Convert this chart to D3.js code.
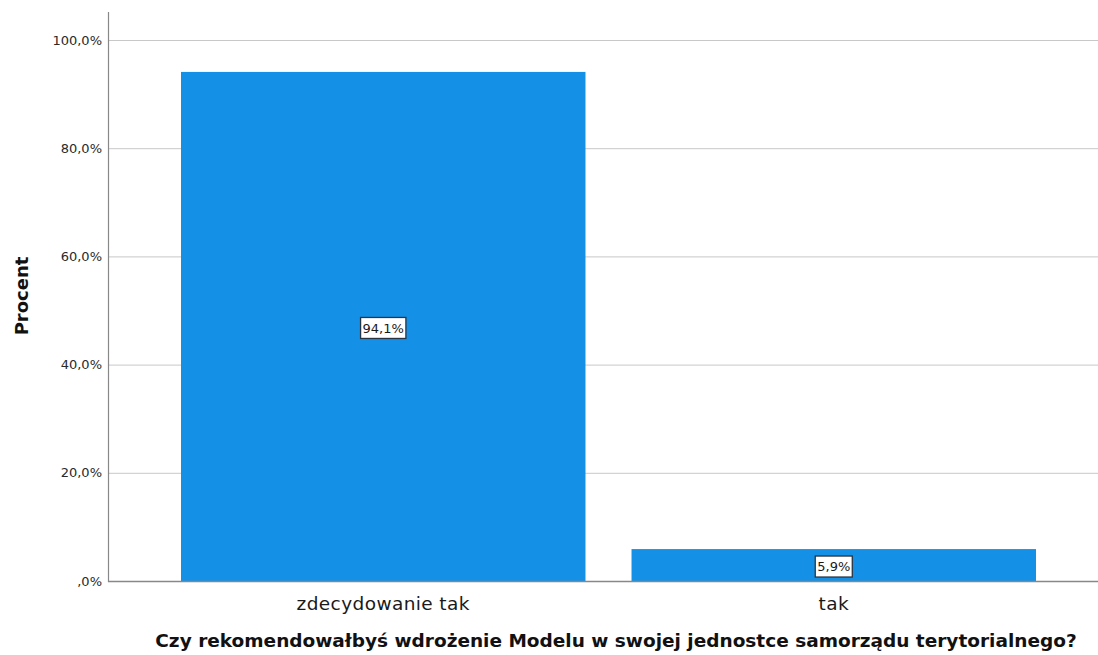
<!DOCTYPE html>
<html><head><meta charset="utf-8">
<script src="https://cdn.jsdelivr.net/npm/d3@7"></script>
<style>body{margin:0;background:#fff;}svg{display:block;}</style>
</head><body>
<script>
const categories = ["zdecydowanie tak", "tak"];
const values = [94.1, 5.9];
const valueLabels = ["94,1%", "5,9%"];
const yTicks = [0, 20, 40, 60, 80, 100];
const yTickLabels = [",0%", "20,0%", "40,0%", "60,0%", "80,0%", "100,0%"];
const xTitle = "Czy rekomendowałbyś wdrożenie Modelu w swojej jednostce samorządu terytorialnego?";
const yTitle = "Procent";

const W = 1098, H = 655;
const mLeft = 108, mRight = 1098, mTop = 12, mBottom = 581;
const svg = d3.select("body").append("svg").attr("width", W).attr("height", H);

const y = d3.scaleLinear().domain([0, 100]).range([581, 40]);
const x = d3.scaleBand().domain(categories).range([181, 1036]).paddingInner(46/450).paddingOuter(0);

// gridlines
svg.append("g").selectAll("line").data(yTicks.filter(d => d > 0)).join("line")
  .attr("x1", mLeft).attr("x2", mRight)
  .attr("y1", d => y(d) + 0.5).attr("y2", d => y(d) + 0.5)
  .attr("stroke", "#c8c8c8").attr("stroke-width", 1);

// bars
svg.append("g").selectAll("rect").data(values).join("rect")
  .attr("x", (d, i) => x(categories[i]))
  .attr("width", x.bandwidth())
  .attr("y", d => y(d))
  .attr("height", d => y(0) - y(d))
  .attr("fill", "#1490e6");

// axes lines
svg.append("line").attr("x1", mLeft + 0.5).attr("x2", mLeft + 0.5).attr("y1", mTop).attr("y2", mBottom + 1)
  .attr("stroke", "#888").attr("stroke-width", 1.2);
svg.append("line").attr("x1", mLeft).attr("x2", mRight).attr("y1", mBottom + 0.5).attr("y2", mBottom + 0.5)
  .attr("stroke", "#888").attr("stroke-width", 1.5);

// y tick labels
svg.append("g").selectAll("text").data(yTicks).join("text")
  .attr("x", 102).attr("y", d => y(d))
  .attr("dy", "0.35em").attr("text-anchor", "end")
  .attr("font-family", "DejaVu Sans, sans-serif").attr("font-size", 13)
  .attr("fill", "#2a2a2a").text((d, i) => yTickLabels[i]);

// x tick labels
svg.append("g").selectAll("text").data(categories).join("text")
  .attr("x", d => x(d) + x.bandwidth() / 2).attr("y", 610)
  .attr("text-anchor", "middle")
  .attr("font-family", "DejaVu Sans, sans-serif").attr("font-size", 18.5)
  .attr("letter-spacing", "0.4px")
  .attr("fill", "#1a1a1a").text(d => d);

// value labels
const lg = svg.append("g").selectAll("g").data(values).join("g")
  .attr("transform", (d, i) => `translate(${x(categories[i]) + x.bandwidth() / 2},${(y(d) + y(0)) / 2 + 1.5})`);
lg.append("text").attr("text-anchor", "middle").attr("dy", "0.35em")
  .attr("font-family", "DejaVu Sans, sans-serif").attr("font-size", 13)
  .attr("fill", "#1a1a1a").text((d, i) => valueLabels[i]);
lg.each(function() {
  const g = d3.select(this);
  const bb = g.select("text").node().getBBox();
  g.insert("rect", "text").attr("x", bb.x - 2).attr("y", -10.5).attr("width", bb.width + 4).attr("height", 21)
    .attr("fill", "#fff").attr("stroke", "#2a3440").attr("stroke-width", 1.3);
});

// axis titles
const xt = svg.append("text").attr("x", 616).attr("y", 647).attr("text-anchor", "middle")
  .attr("font-family", "DejaVu Sans, sans-serif").attr("font-weight", "bold").attr("font-size", 18.5)
  .attr("fill", "#111").text(xTitle);
const len = xt.node().getComputedTextLength();
if (len > 928) xt.attr("textLength", 928).attr("lengthAdjust", "spacingAndGlyphs");

svg.append("text").attr("transform", "translate(28,296) rotate(-90)").attr("text-anchor", "middle")
  .attr("font-family", "DejaVu Sans, sans-serif").attr("font-weight", "bold").attr("font-size", 18)
  .attr("fill", "#111").text(yTitle);
</script>
</body></html>
